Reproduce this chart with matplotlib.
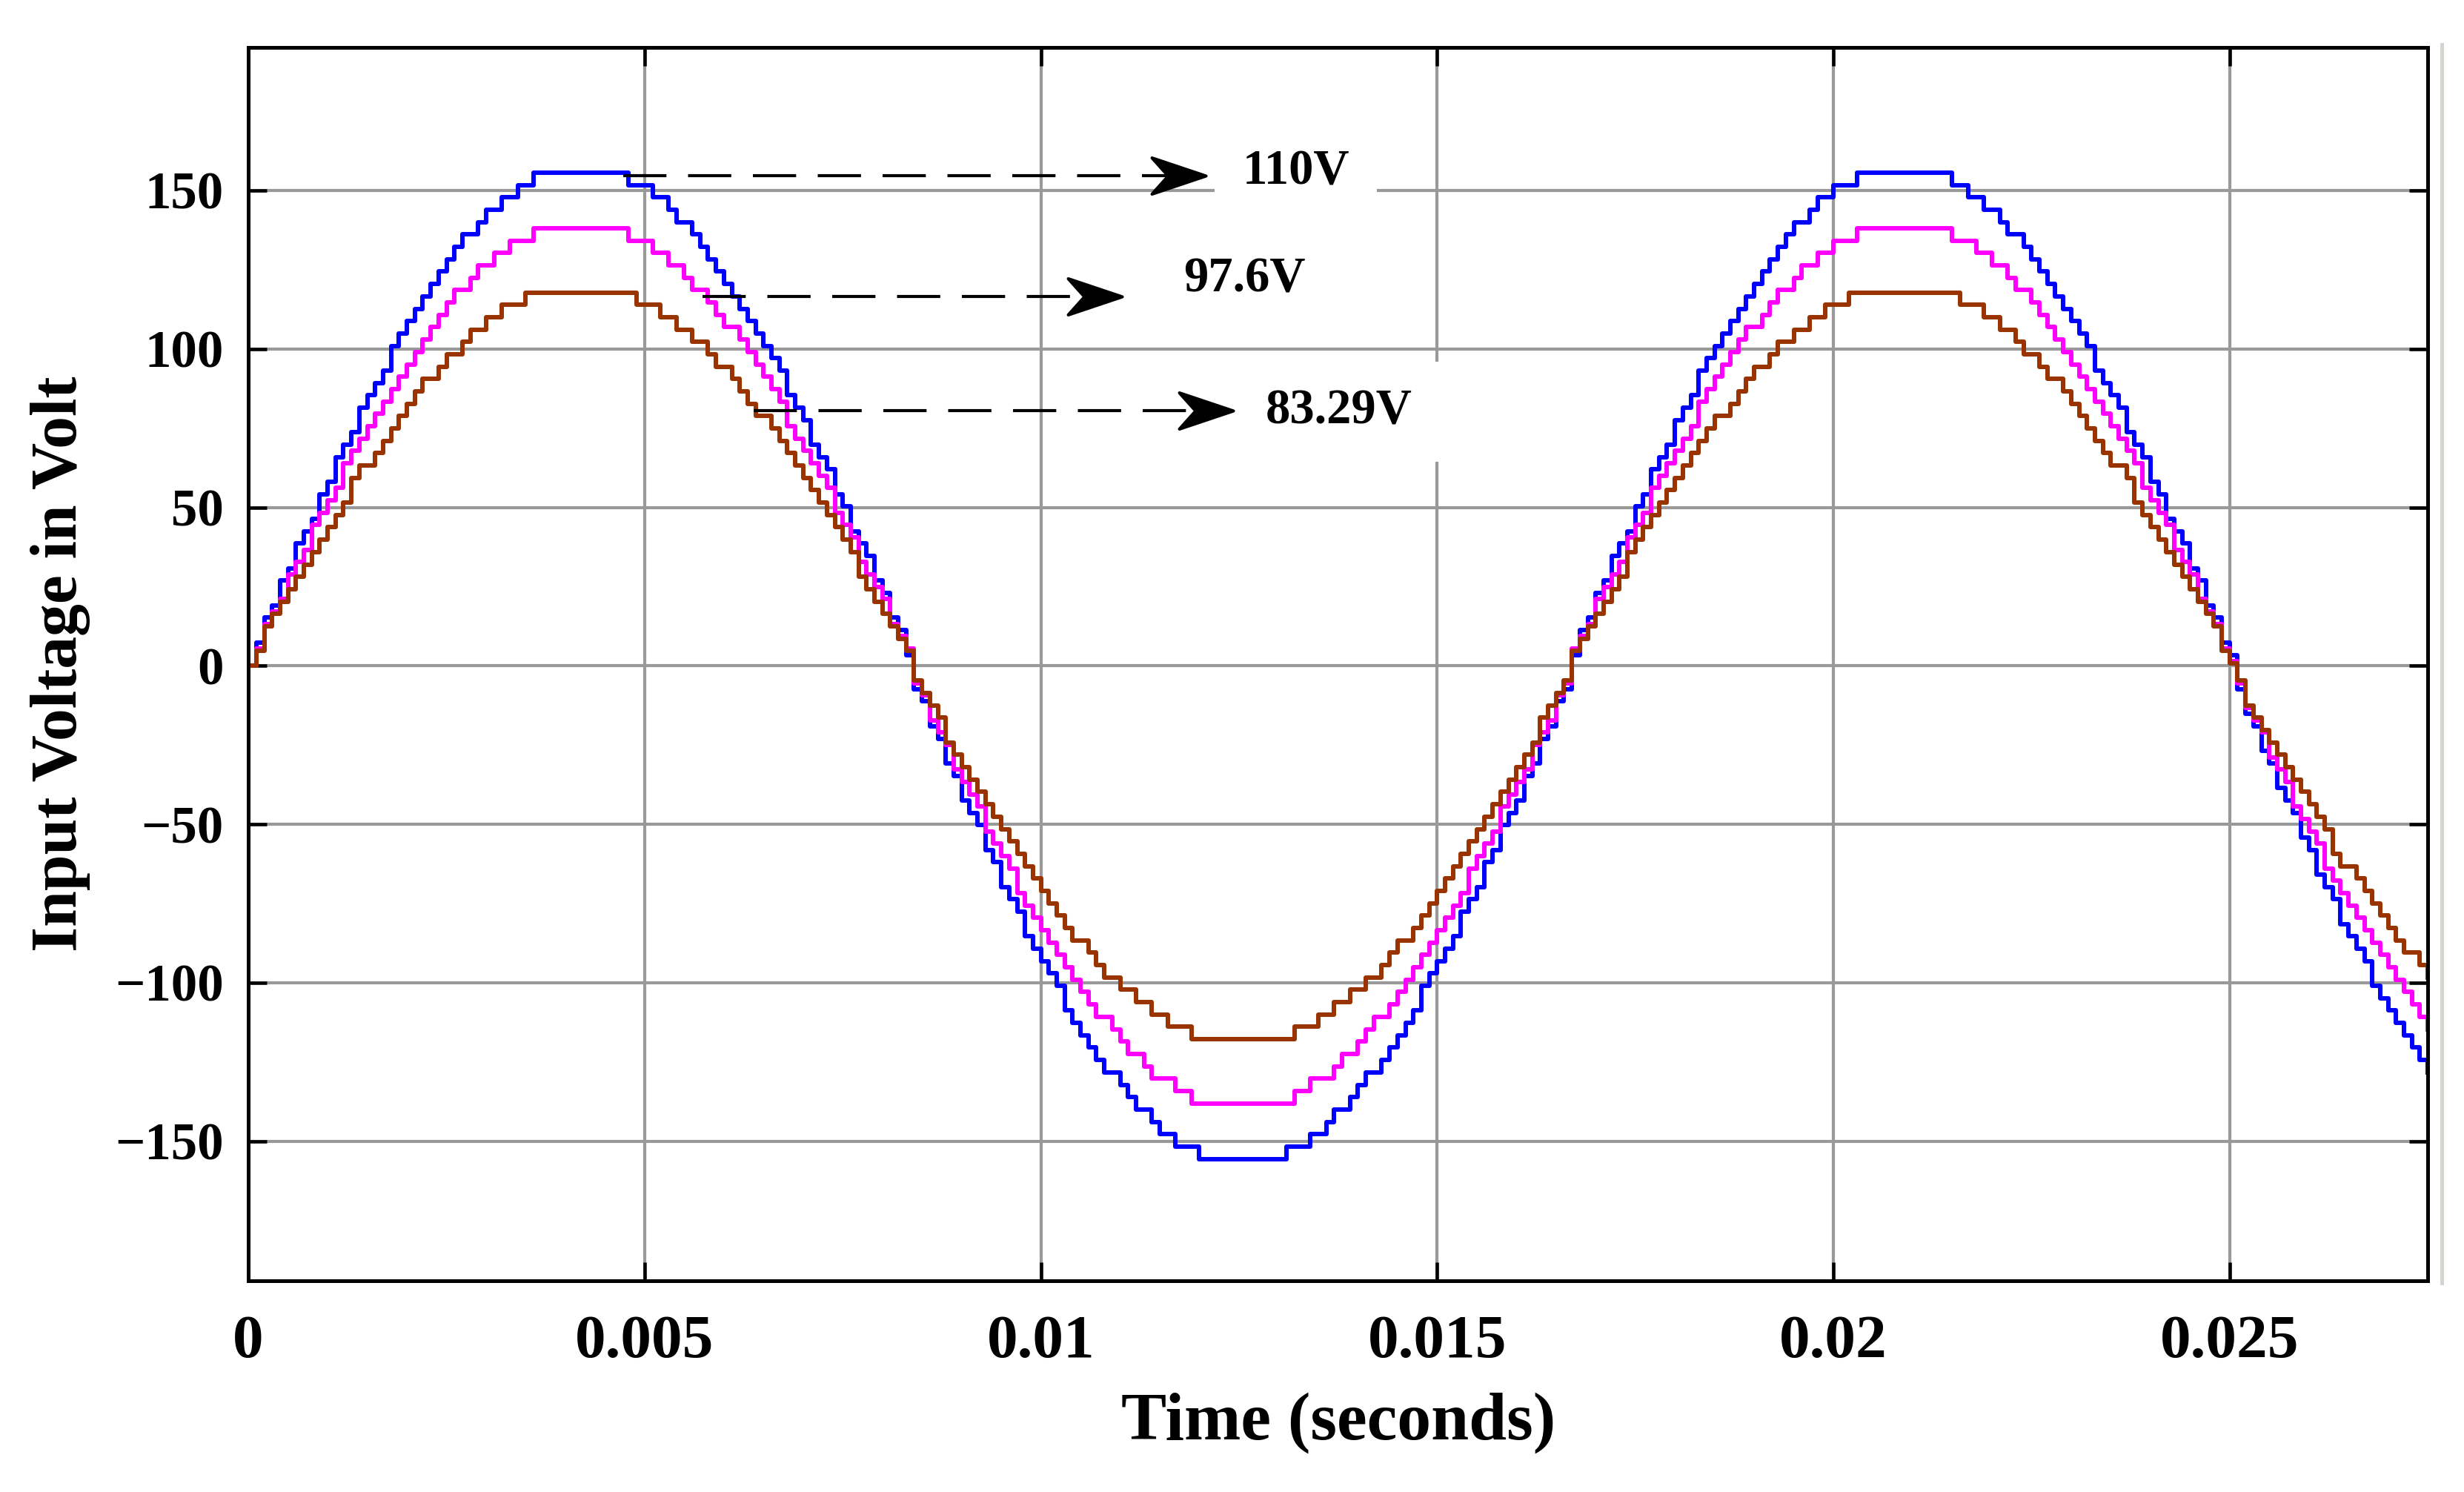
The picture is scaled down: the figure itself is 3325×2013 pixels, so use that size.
import numpy as np
from matplotlib import pyplot as plt
from matplotlib.path import Path
from matplotlib.lines import Line2D

# supply voltages (rms) of the three traces and the sampled source
supply_rms = [110, 97.6, 83.29]
supply_labels = ["110V", "97.6V", "83.29V"]
line_colors = ["#0000ff", "#ff00ff", "#993300"]
freq_hz = 60
sample_time = 1e-4      # hold time of the sampled signal
volt_step = 3.9         # level spacing of the scope trace, counted from the peak
t_end = 0.0275

x_ticks = [0, 0.005, 0.01, 0.015, 0.02, 0.025]
x_tick_labels = ["0", "0.005", "0.01", "0.015", "0.02", "0.025"]
y_ticks = [-150, -100, -50, 0, 50, 100, 150]

plt.rcParams['font.family'] = ['Liberation Serif', 'DejaVu Serif']
plt.rcParams['font.weight'] = 'bold'

fig = plt.figure(figsize=(3325 / 300, 2013 / 300), dpi=300)
ax = fig.add_axes([0.1008, 0.1416, 0.9853 - 0.1008, 0.968 - 0.1416])

# zero-order-hold samples of each supply waveform
t = np.arange(0, t_end + sample_time / 2, sample_time)
for rms, color in zip(supply_rms, line_colors):
    peak = rms * np.sqrt(2)
    v = peak * np.sin(2 * np.pi * freq_hz * t)
    mag = peak - volt_step * np.floor((peak - np.abs(v)) / volt_step)
    v = np.sign(v) * mag
    ax.step(t, v, where='post', color=color, lw=1.45, zorder=3)

ax.set_xlim(0, t_end)
ax.set_ylim(-194, 195)
ax.set_xticks(x_ticks)
ax.set_xticklabels(x_tick_labels)
ax.set_yticks(y_ticks)
ax.grid(True, color='#999999', lw=1.0, zorder=1)
ax.tick_params(direction='in', length=6, width=1.1, top=True, right=True)
ax.tick_params(axis='x', labelsize=20, pad=11)
ax.tick_params(axis='y', labelsize=17, pad=8)
for s in ax.spines.values():
    s.set_linewidth(1.2)
    s.set_zorder(5)

ax.set_xlabel("Time (seconds)", fontsize=22, fontweight='bold', labelpad=7)
ax.set_ylabel("Input Voltage in Volt", fontsize=21, fontweight='bold', labelpad=8)

# dashed arrows pointing at the supply labels
head = Path([(0, 0), (-1, 0.335), (-0.7, 0), (-1, -0.335), (0, 0)],
            [Path.MOVETO, Path.LINETO, Path.LINETO, Path.LINETO, Path.CLOSEPOLY])
arrows = [
    (0.00473, 0.01208, 154.7, 0.01254, 155.9),
    (0.00573, 0.01102, 116.5, 0.01180, 122.0),
    (0.00638, 0.01243, 80.6, 0.01283, 80.2),
]
for (x0, x1, y, tx, ty), label in zip(arrows, supply_labels):
    ax.plot([x0, x1 - 0.0004], [y, y], color='k', lw=1.0,
            linestyle=(0, (14, 7)), zorder=6)
    ax.plot([x1], [y], marker=head, markersize=35, color='k', mec='k', zorder=7)
    ax.text(tx, ty, label, fontsize=16, fontweight='bold', ha='left', va='center',
            zorder=6, bbox=dict(facecolor='white', edgecolor='none', pad=9))

fig.add_artist(Line2D([0.991, 0.991], [0.14, 0.97], color='#d8d4cc', lw=1.2))

fig.savefig("out.png", dpi=300, facecolor='white')
